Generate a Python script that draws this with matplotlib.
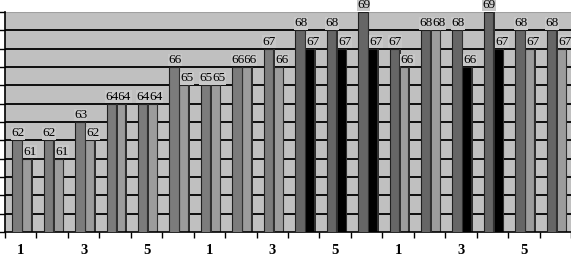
import matplotlib.pyplot as plt
import numpy as np

# values, two bars per group
first = [62, 62, 63, 64, 64, 66, 65, 66, 67, 68, 68, 69, 67, 68, 68, 69, 68, 68]
second = [61, 61, 62, 64, 64, 65, 65, 66, 66, 67, 67, 67, 66, 68, 66, 67, 67, 67]
tick_labels = ["1", "", "3", "", "5", ""] * 3

# second bar is black in these groups
black_groups = [9, 10, 11, 14, 15]

x = np.arange(len(first))
first_colors = ["#7c7c7c"] * 9 + ["#666666"] * 9
second_colors = ["#000000" if i in black_groups else "#9c9c9c" for i in x]

fig = plt.figure(figsize=(5.71, 2.56), dpi=100)
ax = fig.add_axes([5 / 571, 1 - 232 / 256, 566 / 571, 220 / 256])
ax.set_facecolor("#c0c0c0")

ax.set_xlim(-0.5, len(first) - 0.5)
ax.set_ylim(57, 69)

# horizontal gridlines on the back wall
for v in range(58, 69):
    ax.axhline(v, color="black", linewidth=1.3, zorder=1)
ax.axhline(69, color="#a0a0a0", linewidth=1.5, zorder=1)

w = 0.3
ax.bar(x - 0.12, first, width=w, bottom=0, color=first_colors,
       edgecolor="#202020", linewidth=0.8, zorder=3)
ax.bar(x + 0.18, second, width=w, bottom=0, color=second_colors,
       edgecolor="#202020", linewidth=0.8, zorder=2)
# darker right side faces for a bit of depth
ax.bar(x + 0.03 + 0.025, first, width=0.05, color="#303030", zorder=3)
ax.bar(x + 0.33 + 0.025, second, width=0.05, color="#303030", zorder=2)

box = dict(facecolor="#c8c8c8", edgecolor="none", pad=0.3)
for i in x:
    ax.text(i - 0.1, first[i] + 0.06, str(first[i]), ha="center", va="bottom",
            fontsize=9.5, family="Liberation Serif", bbox=box, zorder=5)
    ax.text(i + 0.3, second[i] + 0.06, str(second[i]), ha="center", va="bottom",
            fontsize=9.5, family="Liberation Serif", bbox=box, zorder=4)

ax.set_yticks(range(57, 70))
ax.set_yticklabels([])
ax.tick_params(axis="y", direction="out", length=4, width=1)

ax.set_xticks(x)
ax.set_xticklabels(tick_labels, fontsize=10.5, fontweight="bold",
                   family="Liberation Serif")
ax.set_xticks(np.arange(-0.5, len(first)), minor=True)
ax.tick_params(axis="x", which="major", length=0, pad=9)
ax.tick_params(axis="x", which="minor", direction="out", length=4, width=1)

for s in ["top", "right"]:
    ax.spines[s].set_visible(False)
ax.spines["left"].set_linewidth(1.2)
ax.spines["bottom"].set_linewidth(1.2)

fig.savefig("out.png", dpi=100, facecolor="white")
